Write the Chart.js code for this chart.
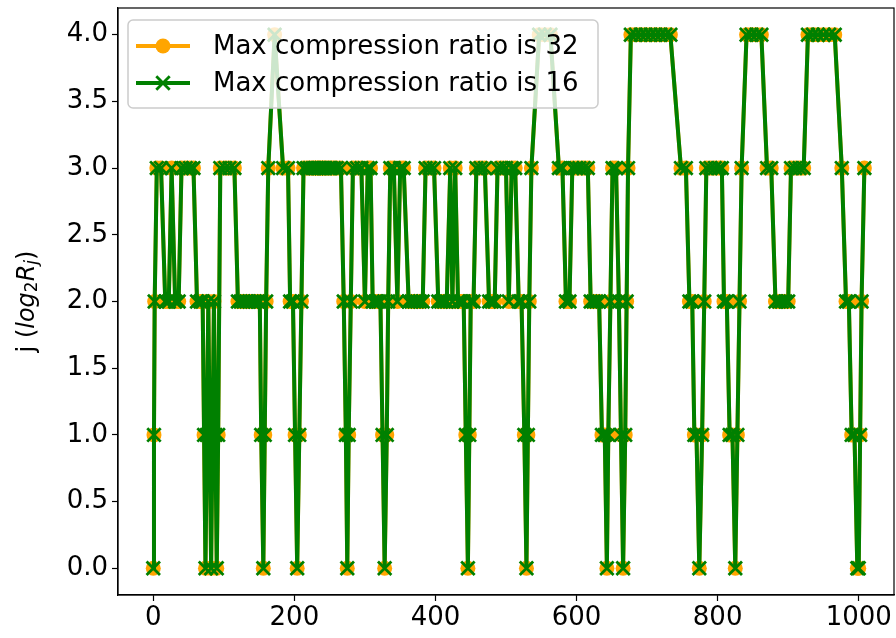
<!DOCTYPE html>
<html>
<head>
<meta charset="utf-8">
<script src="https://cdn.jsdelivr.net/npm/chart.js@4/dist/chart.umd.min.js"></script>
<style>
  body { margin: 0; background: #ffffff; }
  canvas { display: block; }
</style>
</head>
<body>
<canvas id="ratioChart" width="896" height="638"></canvas>
<script>
// sample positions
const sampleX = [
  0, 1, 2, 5, 11, 17, 22, 26, 31, 36, 40, 46, 52, 57, 62, 67, 70, 72, 74, 76,
  78, 80, 82, 84, 86, 88, 90, 92, 95, 102, 108, 115, 120, 124, 128, 132, 136, 140, 144, 148,
  151, 153, 156, 158, 160, 163, 172, 184, 191, 194, 198, 201, 204, 207, 210, 213, 218, 222, 226, 229,
  232, 235, 238, 241, 244, 248, 252, 256, 260, 266, 270, 273, 275, 277, 280, 283, 289, 295, 300, 304,
  308, 311, 315, 319, 322, 325, 328, 331, 333, 336, 341, 346, 350, 355, 362, 366, 370, 374, 378, 382,
  386, 392, 398, 404, 408, 412, 416, 421, 424, 428, 432, 436, 440, 443, 446, 448, 450, 454, 458, 464,
  470, 476, 480, 484, 488, 494, 500, 504, 508, 513, 518, 522, 526, 529, 531, 533, 536, 547, 555, 563,
  575, 580, 585, 590, 594, 599, 604, 610, 616, 620, 624, 628, 632, 636, 640, 643, 645, 648, 651, 656,
  660, 663, 666, 669, 671, 673, 677, 684, 691, 698, 705, 712, 719, 726, 733, 748, 755, 760, 764, 767,
  770, 774, 778, 781, 784, 790, 796, 802, 806, 809, 813, 817, 821, 825, 828, 831, 834, 841, 848, 855,
  862, 870, 876, 882, 887, 891, 896, 900, 904, 910, 916, 922, 928, 935, 942, 950, 958, 966, 976, 982,
  986, 990, 994, 998, 1000, 1002, 1004, 1008
];

// j values, max ratio 32
const ratio32J = [
  0, 1, 2, 3, 3, 2, 2, 3, 2, 2, 3, 3, 3, 3, 2, 2, 2, 1, 0, 1,
  2, 1, 0, 1, 2, 1, 0, 1, 3, 3, 3, 3, 2, 2, 2, 2, 2, 2, 2, 2,
  2, 1, 0, 1, 2, 3, 4, 3, 3, 2, 2, 1, 0, 1, 2, 3, 3, 3, 3, 3,
  3, 3, 3, 3, 3, 3, 3, 3, 3, 3, 2, 1, 0, 1, 2, 3, 3, 3, 2, 3,
  3, 2, 2, 2, 2, 1, 0, 1, 2, 3, 3, 2, 3, 3, 2, 2, 2, 2, 2, 2,
  3, 3, 3, 2, 2, 2, 2, 3, 2, 3, 2, 2, 2, 1, 0, 1, 2, 2, 3, 3,
  3, 2, 2, 2, 3, 3, 3, 2, 3, 3, 2, 2, 1, 0, 1, 2, 3, 4, 4, 4,
  3, 3, 2, 2, 3, 3, 3, 3, 3, 2, 2, 2, 2, 1, 1, 0, 1, 2, 3, 3,
  2, 1, 0, 1, 2, 3, 4, 4, 4, 4, 4, 4, 4, 4, 4, 3, 3, 2, 2, 1,
  1, 0, 1, 2, 3, 3, 3, 3, 3, 2, 2, 1, 1, 0, 1, 2, 3, 4, 4, 4,
  4, 3, 3, 2, 2, 2, 2, 2, 3, 3, 3, 3, 4, 4, 4, 4, 4, 4, 3, 2,
  2, 1, 1, 0, 0, 1, 2, 3
];

// j values, max ratio 16 (the two lines lie on top of each other in the picture)
const ratio16J = [
  0, 1, 2, 3, 3, 2, 2, 3, 2, 2, 3, 3, 3, 3, 2, 2, 2, 1, 0, 1,
  2, 1, 0, 1, 2, 1, 0, 1, 3, 3, 3, 3, 2, 2, 2, 2, 2, 2, 2, 2,
  2, 1, 0, 1, 2, 3, 4, 3, 3, 2, 2, 1, 0, 1, 2, 3, 3, 3, 3, 3,
  3, 3, 3, 3, 3, 3, 3, 3, 3, 3, 2, 1, 0, 1, 2, 3, 3, 3, 2, 3,
  3, 2, 2, 2, 2, 1, 0, 1, 2, 3, 3, 2, 3, 3, 2, 2, 2, 2, 2, 2,
  3, 3, 3, 2, 2, 2, 2, 3, 2, 3, 2, 2, 2, 1, 0, 1, 2, 2, 3, 3,
  3, 2, 2, 2, 3, 3, 3, 2, 3, 3, 2, 2, 1, 0, 1, 2, 3, 4, 4, 4,
  3, 3, 2, 2, 3, 3, 3, 3, 3, 2, 2, 2, 2, 1, 1, 0, 1, 2, 3, 3,
  2, 1, 0, 1, 2, 3, 4, 4, 4, 4, 4, 4, 4, 4, 4, 3, 3, 2, 2, 1,
  1, 0, 1, 2, 3, 3, 3, 3, 3, 2, 2, 1, 1, 0, 1, 2, 3, 4, 4, 4,
  4, 3, 3, 2, 2, 2, 2, 2, 3, 3, 3, 3, 4, 4, 4, 4, 4, 4, 3, 2,
  2, 1, 1, 0, 0, 1, 2, 3
];

const seriesLabels = ["Max compression ratio is 32", "Max compression ratio is 16"];
const xTicks = [0, 200, 400, 600, 800, 1000];
const yTicks = [0, 0.5, 1, 1.5, 2, 2.5, 3, 3.5, 4];

const ORANGE = "#ffa500";
const GREEN = "#008000";
const FONT = '"DejaVu Sans", sans-serif';

function toPoints(xs, ys) {
  let pts = [];
  for (let i = 0; i < xs.length; i++) {
    pts.push({ x: xs[i], y: ys[i] });
  }
  return pts;
}

// top and right spines
const framePlugin = {
  id: "frame",
  afterDraw(chart) {
    let a = chart.chartArea;
    let ctx = chart.ctx;
    ctx.save();
    ctx.strokeStyle = "#000";
    ctx.lineWidth = 1.2;
    ctx.strokeRect(a.left, a.top, a.right - a.left, a.bottom - a.top);
    ctx.restore();
  }
};

// matplotlib-style legend box in the upper left
const legendPlugin = {
  id: "mplLegend",
  afterDatasetsDraw(chart) {
    let ctx = chart.ctx;
    let a = chart.chartArea;
    let bx = a.left + 10, by = a.top + 12, bw = 470, bh = 88;
    ctx.save();
    ctx.beginPath();
    ctx.roundRect(bx, by, bw, bh, 5);
    ctx.fillStyle = "rgba(255,255,255,0.8)";
    ctx.fill();
    ctx.strokeStyle = "#cccccc";
    ctx.lineWidth = 1.5;
    ctx.stroke();

    chart.data.datasets.forEach(function (ds, i) {
      let y = by + 26 + i * 37;
      let mx = bx + 35;
      ctx.strokeStyle = ds.borderColor;
      ctx.lineWidth = ds.borderWidth;
      ctx.beginPath();
      ctx.moveTo(bx + 8, y);
      ctx.lineTo(bx + 62, y);
      ctx.stroke();
      if (ds.pointStyle === "circle") {
        ctx.fillStyle = ds.pointBackgroundColor;
        ctx.beginPath();
        ctx.arc(mx, y, ds.pointRadius, 0, Math.PI * 2);
        ctx.fill();
      } else {
        ctx.strokeStyle = ds.pointBorderColor;
        ctx.fillStyle = ds.pointBackgroundColor;
        ctx.lineWidth = ds.pointBorderWidth;
        Chart.helpers.drawPoint(ctx, { pointStyle: ds.pointStyle, radius: ds.pointRadius, borderWidth: ds.pointBorderWidth }, mx, y);
      }
      ctx.fillStyle = "#000";
      ctx.font = "26px " + FONT;
      ctx.textBaseline = "middle";
      ctx.fillText(ds.label, bx + 85, y + 1);
    });
    ctx.restore();
  }
};

// y axis label: j (log_2 R_j)
const yTitlePlugin = {
  id: "yTitle",
  afterDraw(chart) {
    let ctx = chart.ctx;
    let a = chart.chartArea;
    let parts = [
      { t: "j (", f: "24px " + FONT, dy: 0 },
      { t: "log", f: "italic 24px " + FONT, dy: 0 },
      { t: "2", f: "17px " + FONT, dy: 5 },
      { t: "R", f: "italic 24px " + FONT, dy: 0 },
      { t: "j", f: "italic 17px " + FONT, dy: 5 },
      { t: ")", f: "24px " + FONT, dy: 0 }
    ];
    ctx.save();
    ctx.translate(28, (a.top + a.bottom) / 2);
    ctx.rotate(-Math.PI / 2);
    let total = 0;
    parts.forEach(function (p) { ctx.font = p.f; total += ctx.measureText(p.t).width; });
    let x = -total / 2;
    ctx.fillStyle = "#000";
    ctx.textBaseline = "middle";
    parts.forEach(function (p) {
      ctx.font = p.f;
      ctx.fillText(p.t, x, p.dy);
      x += ctx.measureText(p.t).width;
    });
    ctx.restore();
  }
};

function noPadding(scale) {
  scale.paddingLeft = 0;
  scale.paddingRight = 0;
  scale.paddingTop = 0;
  scale.paddingBottom = 0;
}

let ctx = document.getElementById("ratioChart").getContext("2d");

new Chart(ctx, {
  type: "line",
  data: {
    datasets: [
      {
        label: seriesLabels[0],
        data: toPoints(sampleX, ratio32J),
        borderColor: ORANGE,
        backgroundColor: ORANGE,
        borderWidth: 4,
        pointStyle: "circle",
        pointRadius: 7.5,
        pointBorderWidth: 0,
        pointBackgroundColor: ORANGE,
        pointBorderColor: ORANGE,
        tension: 0,
        order: 1
      },
      {
        label: seriesLabels[1],
        data: toPoints(sampleX, ratio16J),
        borderColor: GREEN,
        backgroundColor: GREEN,
        borderWidth: 4,
        pointStyle: "crossRot",
        pointRadius: 9.5,
        pointBorderWidth: 2.8,
        pointBackgroundColor: GREEN,
        pointBorderColor: GREEN,
        tension: 0,
        order: 0
      }
    ]
  },
  options: {
    responsive: false,
    animation: false,
    devicePixelRatio: 1,
    layout: { autoPadding: false, padding: { top: 8, right: 2, left: 0, bottom: 0 } },
    plugins: {
      legend: { display: false },
      tooltip: { enabled: false }
    },
    scales: {
      x: {
        type: "linear",
        min: -50,
        max: 1050,
        afterBuildTicks: function (scale) {
          scale.ticks = xTicks.map(function (v) { return { value: v }; });
        },
        afterFit: function (scale) { scale.height = 43; noPadding(scale); },
        grid: { drawOnChartArea: false, drawTicks: true, tickLength: 6, color: "#000", tickWidth: 1.2 },
        border: { display: true, color: "#000", width: 1.2 },
        ticks: {
          color: "#000",
          font: { family: FONT, size: 26 },
          padding: 2,
          maxRotation: 0,
          autoSkip: false,
          callback: function (v) { return String(v); }
        }
      },
      y: {
        type: "linear",
        min: -0.2,
        max: 4.2,
        afterBuildTicks: function (scale) {
          scale.ticks = yTicks.map(function (v) { return { value: v }; });
        },
        afterFit: function (scale) { scale.width = 118; noPadding(scale); },
        grid: { drawOnChartArea: false, drawTicks: true, tickLength: 6, color: "#000", tickWidth: 1.2 },
        border: { display: true, color: "#000", width: 1.2 },
        ticks: {
          color: "#000",
          font: { family: FONT, size: 26 },
          padding: 4,
          autoSkip: false,
          callback: function (v) { return v.toFixed(1); }
        }
      }
    }
  },
  plugins: [framePlugin, legendPlugin, yTitlePlugin]
});
</script>
</body>
</html>
